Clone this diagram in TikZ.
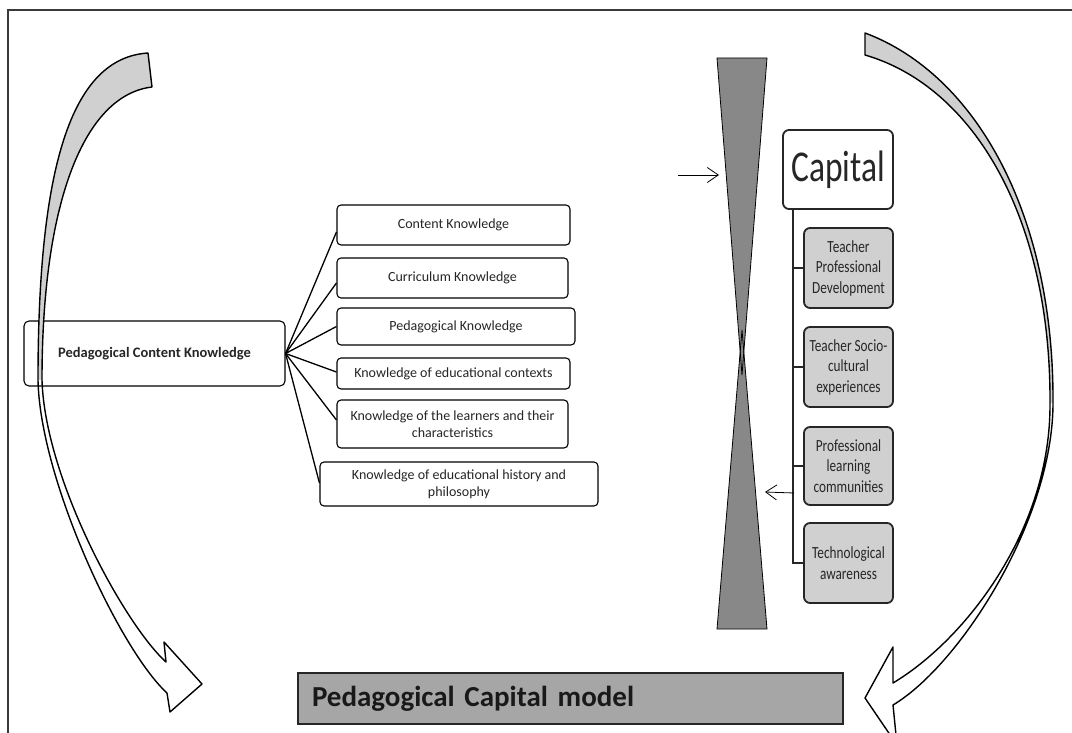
\documentclass[tikz,border=0pt]{standalone}
\usepackage{fontspec}
\setmainfont{Carlito}
\newfontfamily\capfont[FakeStretch=0.76]{Carlito}
\newfontfamily\narrowfont[FakeStretch=0.78]{Carlito}
\usetikzlibrary{arrows.meta,calc}
\definecolor{arcgray}{HTML}{D0D0D0}
\definecolor{boxgray}{HTML}{D0D0D0}
\definecolor{glassgray}{HTML}{888888}
\definecolor{modelgray}{HTML}{A6A6A6}
\definecolor{framegray}{HTML}{3A3A3A}
\definecolor{txtgray}{HTML}{262626}
\begin{document}
\begin{tikzpicture}[x=1pt,y=-1pt,
  kbox/.style={draw=black, line width=1.1pt, rounded corners=4pt, fill=white, inner sep=0pt, align=center, font=\fontsize{14}{17}\selectfont, text=txtgray},
  gbox/.style={draw=black!85, line width=1.8pt, rounded corners=6pt, fill=boxgray, inner sep=0pt, align=center, font=\narrowfont\fontsize{17}{20.5}\selectfont, text=txtgray, minimum width=89pt},
  conn/.style={line width=1.3pt},
  spineline/.style={line width=1.8pt, draw=black!85},
  arcline/.style={draw=black, line width=1.4pt, line join=round},
  thinarrow/.style={line width=0.8pt, -{Straight Barb[length=11pt,width=15pt,line width=0.8pt]}}
]
\clip (0,0) rectangle (1072,733);
\fill[white] (0,0) rectangle (1072,733);
\draw[framegray, line width=1.5pt] (8,740) -- (8,10) -- (1080,10);

% left side knowledge boxes
\node[kbox, minimum width=261pt, minimum height=65pt, rounded corners=5pt, font=\bfseries\fontsize{14.5}{17}\selectfont] (PCK) at (154.5,353.5) {Pedagogical Content Knowledge};
\node[kbox, minimum width=233pt, minimum height=40pt] (CK) at (453.5,225) {Content Knowledge};
\node[kbox, minimum width=231pt, minimum height=40pt] (CUR) at (452.5,278) {Curriculum Knowledge};
\node[kbox, minimum width=238pt, minimum height=37pt] (PK) at (456,326.5) {Pedagogical Knowledge};
\node[kbox, minimum width=233pt, minimum height=31pt] (CTX) at (453.5,373.5) {Knowledge of educational contexts};
\node[kbox, minimum width=231pt, minimum height=48pt] (LRN) at (452.5,424) {Knowledge of the learners and their\\characteristics};
\node[kbox, minimum width=278pt, minimum height=44pt] (HIS) at (459,484) {Knowledge of educational history and\\philosophy};

\foreach \t/\s in {CK/-7,CUR/-5,PK/0,CTX/1.5,LRN/4,HIS/1}
  \draw[conn] (PCK.east) -- ([yshift=\s pt]\t.west);

% hourglass
\fill[glassgray] (717,58) -- (767,58) -- (742,375) -- cycle;
\fill[glassgray] (717,629) -- (767,629) -- (742,330) -- cycle;
\draw[line width=0.8pt, line join=round] (717,58) -- (767,58) -- (742,375) -- cycle;
\draw[line width=0.8pt, line join=round] (717,629) -- (767,629) -- (742,330) -- cycle;

\coordinate (inStart) at (678,175);
\coordinate (inEnd) at (719,175);
\draw[thinarrow] (inStart) -- (inEnd);

% capital column
\node[draw=black!85, line width=1.8pt, rounded corners=6pt, fill=white, minimum width=110pt, minimum height=79pt, inner sep=0pt, text=txtgray, font=\capfont\fontsize{44}{44}\selectfont] (CAP) at (838,169.5) {Capital};
\node[gbox, minimum height=80pt] (TPD) at (848.5,268) {Teacher\\Professional\\Development};
\node[gbox, minimum height=80pt] (TSC) at (848.5,367) {Teacher Socio-\\cultural\\experiences};
\node[gbox, minimum height=78pt] (PLC) at (848.5,466) {Professional\\learning\\communities};
\node[gbox, minimum height=80pt] (TA) at (848.5,563) {Technological\\awareness};

\coordinate (spine) at ([xshift=11pt]CAP.south west);
\draw[spineline] (spine) |- (TA.west);
\foreach \b in {TPD,TSC,PLC}
  \draw[spineline] (spine |- \b.west) -- (\b.west);

\coordinate (outStart) at (794,493);
\coordinate (outEnd) at (765,492);
\draw[thinarrow] (outStart) -- (outEnd);

% bottom model box
\node[draw=black!85, line width=1.2pt, fill=modelgray, minimum height=51pt, inner xsep=14pt, inner ysep=0pt, text width=517pt, align=left, text=black!90, font=\bfseries\fontsize{29}{32}\selectfont] (PCM) at (570.5,698.5) {Pedagogical Capital model};

% left curved arrow
\fill[arcgray] (148,53) .. controls (70,58) and (38,170) .. (38,380) -- (42,380) .. controls (42,200) and (85,95) .. (152,87) -- cycle;
\draw[arcline] (152,87) -- (148,53) .. controls (70,58) and (38,170) .. (38,380)
  .. controls (40,480) and (120,650) .. (167,693) -- (170,712) -- (202,684) -- (164,642) -- (166,662)
  .. controls (125,625) and (45,480) .. (42,380) .. controls (42,200) and (85,95) .. (152,87) -- cycle;

% right curved arrow
\fill[arcgray] (865,33) .. controls (975,74) and (1054,213) .. (1053,403) -- (1050,403) .. controls (1051,220) and (975,87) .. (865,55) -- cycle;
\draw[arcline] (865,55) -- (865,33) .. controls (975,74) and (1054,213) .. (1053,403)
  .. controls (1053,520) and (960,665) .. (893,705) -- (897,745) -- (865,698) -- (893,647) -- (893,683)
  .. controls (965,640) and (1051,530) .. (1050,403) .. controls (1051,220) and (975,87) .. (865,55) -- cycle;
\end{tikzpicture}
\end{document}
